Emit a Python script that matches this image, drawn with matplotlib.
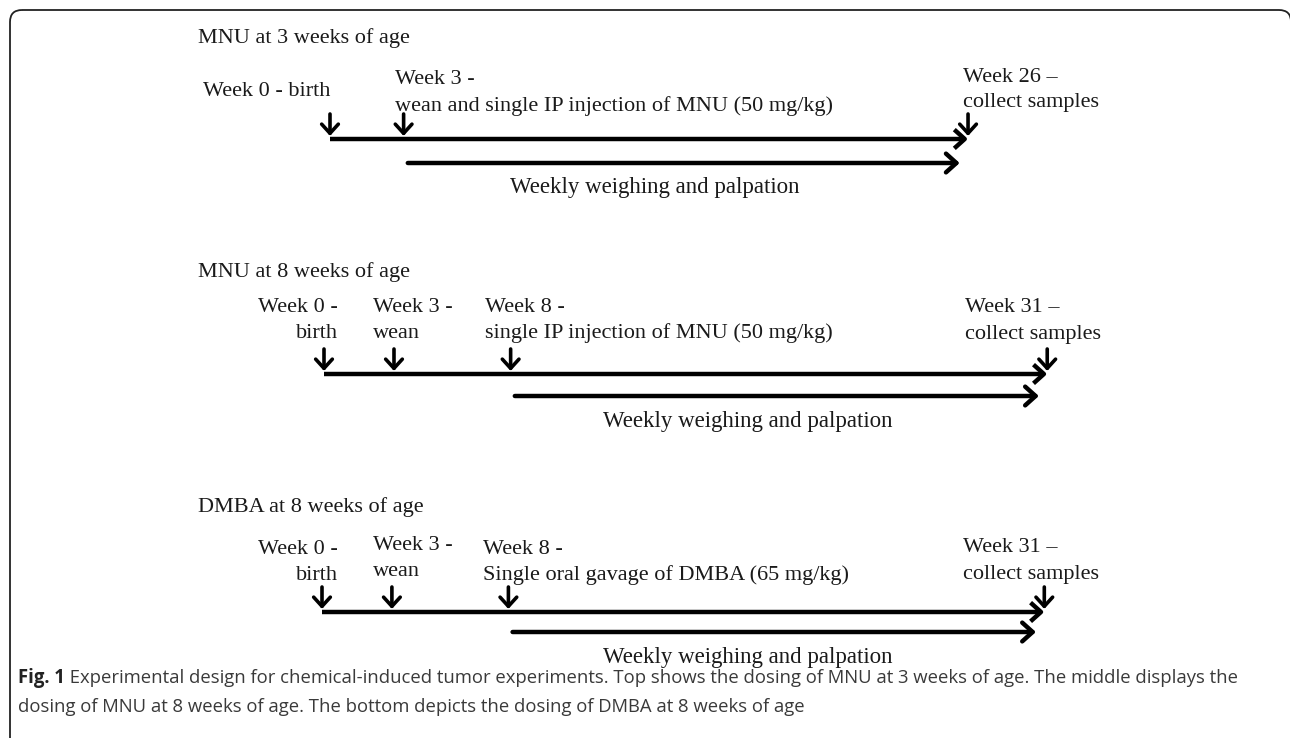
import matplotlib.pyplot as plt
from matplotlib.patches import FancyArrowPatch, FancyBboxPatch

# ---- data ----
panel_titles = ["MNU at 3 weeks of age", "MNU at 8 weeks of age", "DMBA at 8 weeks of age"]
event_weeks = [[0, 3, 26], [0, 3, 8, 31], [0, 3, 8, 31]]
event_labels = [
    [["Week 0 - birth"],
     ["Week 3 -", "wean and single IP injection of MNU (50 mg/kg)"],
     ["Week 26 \u2013", "collect samples"]],
    [["Week 0 -", "birth"],
     ["Week 3 -", "wean"],
     ["Week 8 -", "single IP injection of MNU (50 mg/kg)"],
     ["Week 31 \u2013", "collect samples"]],
    [["Week 0 -", "birth"],
     ["Week 3 -", "wean"],
     ["Week 8 -", "Single oral gavage of DMBA (65 mg/kg)"],
     ["Week 31 \u2013", "collect samples"]],
]
monitor_start = [3, 8, 8]
monitor_label = "Weekly weighing and palpation"
caption_bold = "Fig. 1"
caption_lines = [
    " Experimental design for chemical-induced tumor experiments. Top shows the dosing of MNU at 3 weeks of age. The middle displays the",
    "dosing of MNU at 8 weeks of age. The bottom depicts the dosing of DMBA at 8 weeks of age",
]

# ---- layout (pixels) ----
W, H = 1290, 738
serif = "Liberation Serif"
fs = 16
ink = "#1a1a1a"
dy = 2  # shift so glyph bodies sit where the reference has them
title_y = [36, 270, 505]
line_y = [139, 374, 612]
monitor_y = [163, 396, 632]
monitor_text = [(655, 185), (748, 419), (748, 656)]
# schematic week scale per panel: pixel = origin + week * step
week_origin = [330, 324, 322]
week_step = [24.54, 23.33, 23.3]
label_pos = [
    [(203, [90], "left"), (395, [78, 104], "left"), (963, [75, 101], "left")],
    [(338, [305, 331], "right"), (373, [305, 331], "left"), (485, [305, 331], "left"), (965, [305, 332], "left")],
    [(338, [547, 573], "right"), (373, [543, 570], "left"), (483, [547, 573], "left"), (963, [545, 573], "left")],
]

fig = plt.figure(figsize=(W / 100, H / 100), dpi=100)
ax = fig.add_axes([0, 0, 1, 1])
ax.set_xlim(0, W)
ax.set_ylim(H, 0)
ax.axis("off")

ax.add_patch(FancyBboxPatch((10, 10), W - 9, H + 20,
                            boxstyle="round,pad=0,rounding_size=12",
                            fill=False, ec="#222222", lw=1.3))

for p in range(3):
    pax = fig.add_axes([0, 0, 1, 1])
    o, s = week_origin[p], week_step[p]
    pax.set_xlim(-o / s, (W - o) / s)
    pax.set_ylim(H, 0)
    pax.axis("off")
    pax.patch.set_alpha(0)

    weeks = event_weeks[p]
    y0 = line_y[p]
    # main timeline
    pax.add_patch(FancyArrowPatch((weeks[0], y0), (weeks[-1], y0),
                                  arrowstyle="->,head_length=0.5,head_width=0.45",
                                  mutation_scale=15, lw=3.2, color="black",
                                  shrinkA=0, shrinkB=0, capstyle="butt"))
    # event markers
    for w in weeks:
        pax.add_patch(FancyArrowPatch((w, y0 - 25), (w, y0 - 3),
                                      arrowstyle="->,head_length=0.55,head_width=0.5",
                                      mutation_scale=12, lw=2.6, color="black",
                                      shrinkA=0, shrinkB=0))
    # monitoring period
    pax.add_patch(FancyArrowPatch((monitor_start[p], monitor_y[p]), (weeks[-1], monitor_y[p]),
                                  arrowstyle="->,head_length=0.5,head_width=0.45",
                                  mutation_scale=15, lw=3.2, color="black",
                                  shrinkA=-3, shrinkB=6))

    ax.text(198, title_y[p] + dy, panel_titles[p], family=serif, fontsize=fs,
            color=ink, va="center", ha="left")
    ax.text(monitor_text[p][0], monitor_text[p][1] + dy, monitor_label, family=serif,
            fontsize=fs * 1.03, color=ink, va="center", ha="center")
    for lines, (lx, lys, ha) in zip(event_labels[p], label_pos[p]):
        for txt, ly in zip(lines, lys):
            ax.text(lx, ly + dy, txt, family=serif, fontsize=fs, color=ink,
                    va="center", ha=ha)

# caption
cap_fs = 13.35
t = ax.text(18, 678, caption_bold, family="Open Sans", fontweight="bold",
            fontsize=cap_fs, color="#222222", va="center", ha="left")
fig.canvas.draw()
bb = t.get_window_extent()
ax.text(18 + bb.width, 678, caption_lines[0], family="Open Sans",
        fontsize=cap_fs, color="#3a3a3a", va="center", ha="left")
ax.text(18, 707, caption_lines[1], family="Open Sans",
        fontsize=cap_fs, color="#3a3a3a", va="center", ha="left")

fig.savefig("out.png", dpi=100)
